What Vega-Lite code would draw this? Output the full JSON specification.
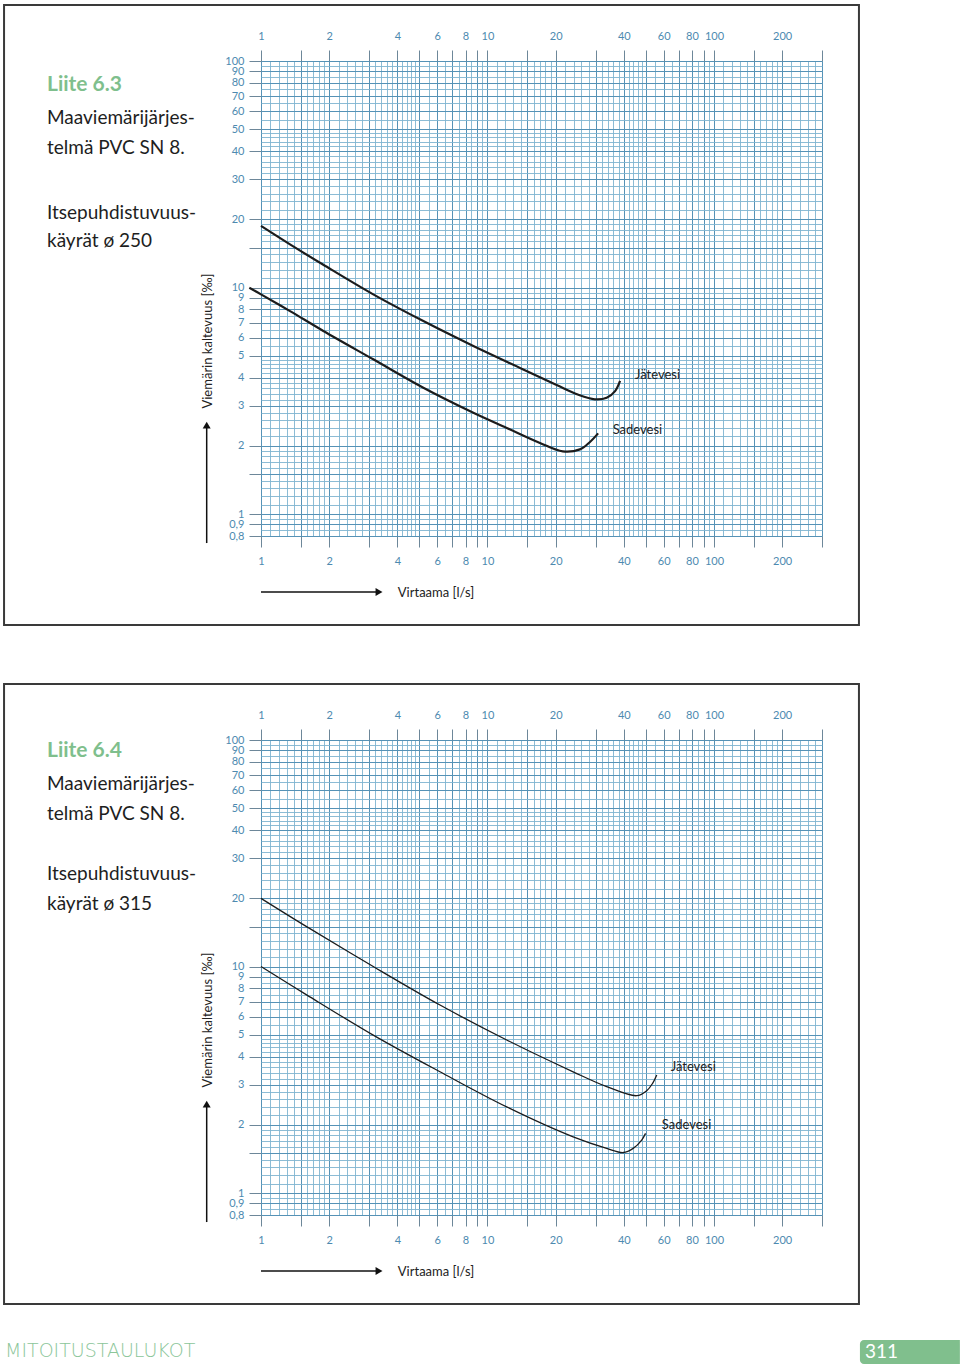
{
  "$schema": "https://vega.github.io/schema/vega-lite/v6.json",
  "background": "white",
  "padding": {"left": 3, "top": 3, "right": 0, "bottom": 0},
  "spacing": 55,
  "config": {
    "view": {"stroke": null},
    "font": "Lato",
    "axis": {"labelFont": "Lato", "labelFontSize": 11, "labelColor": "#4d8ab0", "tickColor": "#6d8799", "domain": false, "titleFont": "Lato", "titleFontSize": 13, "titleFontWeight": "normal", "titleColor": "#222222", "labelOverlap": false, "labelFlush": false, "labelBound": false}
  },
  "datasets": {
    "p1curves": [
      {"series": "Jätevesi", "Q": 1, "S": 18.7},
      {"series": "Jätevesi", "Q": 1.343, "S": 15.5},
      {"series": "Jätevesi", "Q": 1.885, "S": 12.6},
      {"series": "Jätevesi", "Q": 3.13, "S": 9.33},
      {"series": "Jätevesi", "Q": 5.21, "S": 7.11},
      {"series": "Jätevesi", "Q": 8.66, "S": 5.52},
      {"series": "Jätevesi", "Q": 14.39, "S": 4.35},
      {"series": "Jätevesi", "Q": 20.2, "S": 3.71},
      {"series": "Jätevesi", "Q": 25.2, "S": 3.36},
      {"series": "Jätevesi", "Q": 29.8, "S": 3.21},
      {"series": "Jätevesi", "Q": 33.6, "S": 3.26},
      {"series": "Jätevesi", "Q": 36.6, "S": 3.49},
      {"series": "Jätevesi", "Q": 38.5, "S": 3.87},
      {"series": "Sadevesi", "Q": 0.888, "S": 9.98},
      {"series": "Sadevesi", "Q": 1, "S": 9.33},
      {"series": "Sadevesi", "Q": 1.343, "S": 7.87},
      {"series": "Sadevesi", "Q": 1.885, "S": 6.43},
      {"series": "Sadevesi", "Q": 3.13, "S": 4.82},
      {"series": "Sadevesi", "Q": 5.21, "S": 3.61},
      {"series": "Sadevesi", "Q": 8.66, "S": 2.8},
      {"series": "Sadevesi", "Q": 12.16, "S": 2.4},
      {"series": "Sadevesi", "Q": 17.05, "S": 2.06},
      {"series": "Sadevesi", "Q": 21.5, "S": 1.89},
      {"series": "Sadevesi", "Q": 25.6, "S": 1.93},
      {"series": "Sadevesi", "Q": 28.2, "S": 2.07},
      {"series": "Sadevesi", "Q": 30.8, "S": 2.27}
    ],
    "p1labels": [
      {"label": "Jätevesi", "Q": 44.8, "S": 4.11},
      {"label": "Sadevesi", "Q": 35.7, "S": 2.34}
    ],
    "p2curves": [
      {"series": "Jätevesi", "Q": 1, "S": 20},
      {"series": "Jätevesi", "Q": 1.59, "S": 15},
      {"series": "Jätevesi", "Q": 3.13, "S": 10},
      {"series": "Jätevesi", "Q": 6.17, "S": 6.76},
      {"series": "Jätevesi", "Q": 12.16, "S": 4.74},
      {"series": "Jätevesi", "Q": 23.9, "S": 3.43},
      {"series": "Jätevesi", "Q": 33.6, "S": 2.95},
      {"series": "Jätevesi", "Q": 45.6, "S": 2.69},
      {"series": "Jätevesi", "Q": 50.5, "S": 2.83},
      {"series": "Jätevesi", "Q": 53.6, "S": 3.05},
      {"series": "Jätevesi", "Q": 55.9, "S": 3.32},
      {"series": "Sadevesi", "Q": 1, "S": 10},
      {"series": "Sadevesi", "Q": 1.59, "S": 7.5},
      {"series": "Sadevesi", "Q": 3.13, "S": 4.98},
      {"series": "Sadevesi", "Q": 6.17, "S": 3.43},
      {"series": "Sadevesi", "Q": 12.16, "S": 2.4},
      {"series": "Sadevesi", "Q": 23.9, "S": 1.77},
      {"series": "Sadevesi", "Q": 33.6, "S": 1.575},
      {"series": "Sadevesi", "Q": 39.8, "S": 1.51},
      {"series": "Sadevesi", "Q": 44, "S": 1.575},
      {"series": "Sadevesi", "Q": 47.96, "S": 1.714},
      {"series": "Sadevesi", "Q": 49.9, "S": 1.834}
    ],
    "p2labels": [
      {"label": "Jätevesi", "Q": 64.4, "S": 3.59},
      {"label": "Sadevesi", "Q": 58.8, "S": 1.99}
    ]
  },
  "vconcat": [
    {
      "width": 561,
      "height": 475,
      "title": {"text": "Liite 6.3", "subtitle": ["Maaviemärijärjes-", "telmä PVC SN 8."], "anchor": "start", "frame": "group", "orient": "top", "offset": 0, "font": "Lato", "fontSize": 21, "fontWeight": "bold", "color": "#7fbf8d", "subtitleFont": "Lato", "subtitleFontSize": 19, "subtitleFontWeight": "normal", "subtitleColor": "#1e1e1e", "subtitleLineHeight": 30.5, "subtitlePadding": 14, "dx": -214, "dy": 154.5},
      "layer": [
        {
          "data": {"values": [{}]},
          "mark": {"type": "rect", "filled": false, "stroke": "#3a3a3a", "strokeWidth": 2, "clip": false},
          "encoding": {
            "x": {"datum": 0.07335, "type": "quantitative", "scale": {"type": "log", "domain": [1, 300], "nice": false},
              "axis": {"orient": "bottom", "values": [1,1.1,1.2,1.3,1.4,1.5,1.6,1.7,1.8,1.9,2,2.2,2.4,2.6,2.8,3,3.2,3.4,3.6,3.8,4,4.2,4.4,4.6,4.8,5,5.5,6,6.5,7,7.5,8,8.5,9,9.5,10,11,12,13,14,15,16,17,18,19,20,22,24,26,28,30,32,34,36,38,40,42,44,46,48,50,55,60,65,70,75,80,85,90,95,100,110,120,130,140,150,160,170,180,190,200,220,240,260,280,300], "grid": true, "gridColor": "#7fb4d0", "gridWidth": 0.9, "labels": false, "ticks": false, "domain": false, "title": null}},
            "x2": {"datum": 436.8},
            "y": {"datum": 176.7, "type": "quantitative", "scale": {"type": "log", "domain": [0.8, 100], "nice": false},
              "axis": {"orient": "left", "values": [0.8,0.85,0.9,0.95,1,1.1,1.2,1.3,1.4,1.5,1.6,1.7,1.8,1.9,2,2.2,2.4,2.6,2.8,3,3.2,3.4,3.6,3.8,4,4.2,4.4,4.6,4.8,5,5.5,6,6.5,7,7.5,8,8.5,9,9.5,10,11,12,13,14,15,16,17,18,19,20,22,24,26,28,30,32,34,36,38,40,42,44,46,48,50,55,60,65,70,75,80,85,90,95,100], "grid": true, "gridColor": "#7fb4d0", "gridWidth": 0.9, "labels": false, "ticks": false, "domain": false, "title": null}},
            "y2": {"datum": 0.3236}
          }
        },
        {
          "data": {"name": "p1curves"},
          "mark": {"type": "line", "interpolate": "catmull-rom", "strokeWidth": 2.2, "color": "#1c1c1c", "clip": false},
          "encoding": {
            "x": {"field": "Q", "type": "quantitative", "scale": {"type": "log", "domain": [1, 300], "nice": false},
              "axis": {"orient": "top", "values": [1,1.5,2,3,4,5,6,7,8,9,10,15,20,30,40,50,60,70,80,90,100,150,200,300], "grid": true, "gridColor": "#5592b6", "gridWidth": 1, "ticks": true, "tickSize": 11, "tickWidth": 1, "labelPadding": 9, "labelExpr": "indexof([1,2,4,6,8,10,20,40,60,80,100,200], datum.value) >= 0 ? '' + datum.value : ''", "title": null}},
            "y": {"field": "S", "type": "quantitative", "scale": {"type": "log", "domain": [0.8, 100], "nice": false},
              "axis": {"orient": "left", "values": [0.8,0.9,1,1.5,2,3,4,5,6,7,8,9,10,15,20,30,40,50,60,70,80,90,100], "grid": true, "gridColor": "#5592b6", "gridWidth": 1, "ticks": true, "tickSize": 12, "tickWidth": 1, "labelPadding": 5, "labelExpr": "indexof([1.5,15], datum.value) >= 0 ? '' : replace('' + datum.value, '.', ',')", "title": "Viemärin kaltevuus [‰]", "titleX": -53.5, "titleY": 279.5, "titleAngle": 270, "titleAlign": "center", "titleBaseline": "middle"}},
            "detail": {"field": "series"}
          }
        },
        {
          "data": {"name": "p1labels"},
          "mark": {"type": "text", "align": "left", "baseline": "middle", "fontSize": 13, "font": "Lato", "color": "#222222", "clip": false},
          "encoding": {
            "x": {"field": "Q", "type": "quantitative", "scale": {"type": "log", "domain": [1, 300], "nice": false},
              "axis": {"orient": "bottom", "values": [1,1.5,2,3,4,5,6,7,8,9,10,15,20,30,40,50,60,70,80,90,100,150,200,300], "grid": false, "ticks": true, "tickSize": 11, "tickWidth": 1, "labelPadding": 8, "labelExpr": "indexof([1,2,4,6,8,10,20,40,60,80,100,200], datum.value) >= 0 ? '' + datum.value : ''", "title": "Virtaama [l/s]", "titleX": 174.5, "titleY": 56, "titleAlign": "center", "titleBaseline": "middle"}},
            "y": {"field": "S", "type": "quantitative", "scale": {"type": "log", "domain": [0.8, 100], "nice": false}, "axis": null},
            "text": {"field": "label"}
          }
        },
        {
          "data": {"values": [{}]},
          "mark": {"type": "text", "text": ["Itsepuhdistuvuus-", "käyrät ø 250"], "align": "left", "baseline": "alphabetic", "font": "Lato", "fontSize": 19, "lineHeight": 28, "color": "#1e1e1e", "clip": false},
          "encoding": {
            "x": {"datum": 0.1135, "type": "quantitative", "scale": {"type": "log", "domain": [1, 300], "nice": false}, "axis": null},
            "y": {"datum": 20.06, "type": "quantitative", "scale": {"type": "log", "domain": [0.8, 100], "nice": false}, "axis": null}
          }
        },
        {
          "data": {"values": [{}]},
          "mark": {"type": "rule", "color": "#111111", "strokeWidth": 1.5, "clip": false},
          "encoding": {
            "x": {"datum": 0.5757, "type": "quantitative", "scale": {"type": "log", "domain": [1, 300], "nice": false}, "axis": null},
            "y": {"datum": 0.7447, "type": "quantitative", "scale": {"type": "log", "domain": [0.8, 100], "nice": false}, "axis": null},
            "y2": {"datum": 2.4}
          }
        },
        {
          "data": {"values": [{}]},
          "mark": {"type": "point", "shape": "triangle-up", "filled": true, "size": 64, "color": "#111111", "opacity": 1, "clip": false},
          "encoding": {
            "x": {"datum": 0.5757, "type": "quantitative", "scale": {"type": "log", "domain": [1, 300], "nice": false}, "axis": null},
            "y": {"datum": 2.47, "type": "quantitative", "scale": {"type": "log", "domain": [0.8, 100], "nice": false}, "axis": null}
          }
        },
        {
          "data": {"values": [{}]},
          "mark": {"type": "rule", "color": "#111111", "strokeWidth": 1.5, "clip": false},
          "encoding": {
            "x": {"datum": 1.0, "type": "quantitative", "scale": {"type": "log", "domain": [1, 300], "nice": false}, "axis": null},
            "x2": {"datum": 3.22},
            "y": {"datum": 0.4524, "type": "quantitative", "scale": {"type": "log", "domain": [0.8, 100], "nice": false}, "axis": null}
          }
        },
        {
          "data": {"values": [{}]},
          "mark": {"type": "point", "shape": "triangle-right", "filled": true, "size": 64, "color": "#111111", "opacity": 1, "clip": false},
          "encoding": {
            "x": {"datum": 3.32, "type": "quantitative", "scale": {"type": "log", "domain": [1, 300], "nice": false}, "axis": null},
            "y": {"datum": 0.4524, "type": "quantitative", "scale": {"type": "log", "domain": [0.8, 100], "nice": false}, "axis": null}
          }
        }
      ],
      "resolve": {"axis": {"x": "independent", "y": "independent"}}
    },
    {
      "width": 561,
      "height": 475,
      "title": {"text": "Liite 6.4", "subtitle": ["Maaviemärijärjes-", "telmä PVC SN 8."], "anchor": "start", "frame": "group", "orient": "top", "offset": 0, "font": "Lato", "fontSize": 21, "fontWeight": "bold", "color": "#7fbf8d", "subtitleFont": "Lato", "subtitleFontSize": 19, "subtitleFontWeight": "normal", "subtitleColor": "#1e1e1e", "subtitleLineHeight": 30, "subtitlePadding": 14, "dx": -214, "dy": 141},
      "layer": [
        {
          "data": {"values": [{}]},
          "mark": {"type": "rect", "filled": false, "stroke": "#3a3a3a", "strokeWidth": 2, "clip": false},
          "encoding": {
            "x": {"datum": 0.07335, "type": "quantitative", "scale": {"type": "log", "domain": [1, 300], "nice": false},
              "axis": {"orient": "bottom", "values": [1,1.1,1.2,1.3,1.4,1.5,1.6,1.7,1.8,1.9,2,2.2,2.4,2.6,2.8,3,3.2,3.4,3.6,3.8,4,4.2,4.4,4.6,4.8,5,5.5,6,6.5,7,7.5,8,8.5,9,9.5,10,11,12,13,14,15,16,17,18,19,20,22,24,26,28,30,32,34,36,38,40,42,44,46,48,50,55,60,65,70,75,80,85,90,95,100,110,120,130,140,150,160,170,180,190,200,220,240,260,280,300], "grid": true, "gridColor": "#7fb4d0", "gridWidth": 0.9, "labels": false, "ticks": false, "domain": false, "title": null}},
            "x2": {"datum": 436.8},
            "y": {"datum": 176.7, "type": "quantitative", "scale": {"type": "log", "domain": [0.8, 100], "nice": false},
              "axis": {"orient": "left", "values": [0.8,0.85,0.9,0.95,1,1.1,1.2,1.3,1.4,1.5,1.6,1.7,1.8,1.9,2,2.2,2.4,2.6,2.8,3,3.2,3.4,3.6,3.8,4,4.2,4.4,4.6,4.8,5,5.5,6,6.5,7,7.5,8,8.5,9,9.5,10,11,12,13,14,15,16,17,18,19,20,22,24,26,28,30,32,34,36,38,40,42,44,46,48,50,55,60,65,70,75,80,85,90,95,100], "grid": true, "gridColor": "#7fb4d0", "gridWidth": 0.9, "labels": false, "ticks": false, "domain": false, "title": null}},
            "y2": {"datum": 0.3236}
          }
        },
        {
          "data": {"name": "p2curves"},
          "mark": {"type": "line", "interpolate": "catmull-rom", "strokeWidth": 1.3, "color": "#1c1c1c", "clip": false},
          "encoding": {
            "x": {"field": "Q", "type": "quantitative", "scale": {"type": "log", "domain": [1, 300], "nice": false},
              "axis": {"orient": "top", "values": [1,1.5,2,3,4,5,6,7,8,9,10,15,20,30,40,50,60,70,80,90,100,150,200,300], "grid": true, "gridColor": "#5592b6", "gridWidth": 1, "ticks": true, "tickSize": 11, "tickWidth": 1, "labelPadding": 9, "labelExpr": "indexof([1,2,4,6,8,10,20,40,60,80,100,200], datum.value) >= 0 ? '' + datum.value : ''", "title": null}},
            "y": {"field": "S", "type": "quantitative", "scale": {"type": "log", "domain": [0.8, 100], "nice": false},
              "axis": {"orient": "left", "values": [0.8,0.9,1,1.5,2,3,4,5,6,7,8,9,10,15,20,30,40,50,60,70,80,90,100], "grid": true, "gridColor": "#5592b6", "gridWidth": 1, "ticks": true, "tickSize": 12, "tickWidth": 1, "labelPadding": 5, "labelExpr": "indexof([1.5,15], datum.value) >= 0 ? '' : replace('' + datum.value, '.', ',')", "title": "Viemärin kaltevuus [‰]", "titleX": -53.5, "titleY": 279.5, "titleAngle": 270, "titleAlign": "center", "titleBaseline": "middle"}},
            "detail": {"field": "series"}
          }
        },
        {
          "data": {"name": "p2labels"},
          "mark": {"type": "text", "align": "left", "baseline": "middle", "fontSize": 13, "font": "Lato", "color": "#222222", "clip": false},
          "encoding": {
            "x": {"field": "Q", "type": "quantitative", "scale": {"type": "log", "domain": [1, 300], "nice": false},
              "axis": {"orient": "bottom", "values": [1,1.5,2,3,4,5,6,7,8,9,10,15,20,30,40,50,60,70,80,90,100,150,200,300], "grid": false, "ticks": true, "tickSize": 11, "tickWidth": 1, "labelPadding": 8, "labelExpr": "indexof([1,2,4,6,8,10,20,40,60,80,100,200], datum.value) >= 0 ? '' + datum.value : ''", "title": "Virtaama [l/s]", "titleX": 174.5, "titleY": 56, "titleAlign": "center", "titleBaseline": "middle"}},
            "y": {"field": "S", "type": "quantitative", "scale": {"type": "log", "domain": [0.8, 100], "nice": false}, "axis": null},
            "text": {"field": "label"}
          }
        },
        {
          "data": {"values": [{}]},
          "mark": {"type": "text", "text": ["Itsepuhdistuvuus-", "käyrät ø 315"], "align": "left", "baseline": "alphabetic", "font": "Lato", "fontSize": 19, "lineHeight": 30, "color": "#1e1e1e", "clip": false},
          "encoding": {
            "x": {"datum": 0.1135, "type": "quantitative", "scale": {"type": "log", "domain": [1, 300], "nice": false}, "axis": null},
            "y": {"datum": 24.09, "type": "quantitative", "scale": {"type": "log", "domain": [0.8, 100], "nice": false}, "axis": null}
          }
        },
        {
          "data": {"values": [{}]},
          "mark": {"type": "rule", "color": "#111111", "strokeWidth": 1.5, "clip": false},
          "encoding": {
            "x": {"datum": 0.5757, "type": "quantitative", "scale": {"type": "log", "domain": [1, 300], "nice": false}, "axis": null},
            "y": {"datum": 0.7447, "type": "quantitative", "scale": {"type": "log", "domain": [0.8, 100], "nice": false}, "axis": null},
            "y2": {"datum": 2.4}
          }
        },
        {
          "data": {"values": [{}]},
          "mark": {"type": "point", "shape": "triangle-up", "filled": true, "size": 64, "color": "#111111", "opacity": 1, "clip": false},
          "encoding": {
            "x": {"datum": 0.5757, "type": "quantitative", "scale": {"type": "log", "domain": [1, 300], "nice": false}, "axis": null},
            "y": {"datum": 2.47, "type": "quantitative", "scale": {"type": "log", "domain": [0.8, 100], "nice": false}, "axis": null}
          }
        },
        {
          "data": {"values": [{}]},
          "mark": {"type": "rule", "color": "#111111", "strokeWidth": 1.5, "clip": false},
          "encoding": {
            "x": {"datum": 1.0, "type": "quantitative", "scale": {"type": "log", "domain": [1, 300], "nice": false}, "axis": null},
            "x2": {"datum": 3.22},
            "y": {"datum": 0.4524, "type": "quantitative", "scale": {"type": "log", "domain": [0.8, 100], "nice": false}, "axis": null}
          }
        },
        {
          "data": {"values": [{}]},
          "mark": {"type": "point", "shape": "triangle-right", "filled": true, "size": 64, "color": "#111111", "opacity": 1, "clip": false},
          "encoding": {
            "x": {"datum": 3.32, "type": "quantitative", "scale": {"type": "log", "domain": [1, 300], "nice": false}, "axis": null},
            "y": {"datum": 0.4524, "type": "quantitative", "scale": {"type": "log", "domain": [0.8, 100], "nice": false}, "axis": null}
          }
        },
        {
          "data": {"values": [{}]},
          "mark": {"type": "text", "text": "MITOITUSTAULUKOT", "align": "left", "baseline": "middle", "font": "DejaVu Sans", "fontWeight": 200, "fontSize": 19, "color": "#8cc69a", "clip": false},
          "encoding": {
            "x": {"datum": 0.0741, "type": "quantitative", "scale": {"type": "log", "domain": [1, 300], "nice": false}, "axis": null},
            "y": {"datum": 0.2006, "type": "quantitative", "scale": {"type": "log", "domain": [0.8, 100], "nice": false}, "axis": null}
          }
        },
        {
          "data": {"values": [{}]},
          "mark": {"type": "rect", "color": "#80bf8d", "cornerRadiusTopLeft": 4, "cornerRadiusBottomLeft": 4, "clip": false},
          "encoding": {
            "x": {"datum": 441.2, "type": "quantitative", "scale": {"type": "log", "domain": [1, 300], "nice": false}, "axis": null},
            "x2": {"datum": 1219},
            "y": {"datum": 0.2244, "type": "quantitative", "scale": {"type": "log", "domain": [0.8, 100], "nice": false}, "axis": null},
            "y2": {"datum": 0.1758}
          }
        },
        {
          "data": {"values": [{}]},
          "mark": {"type": "text", "text": "311", "align": "left", "baseline": "middle", "font": "Lato", "fontSize": 19, "color": "white", "clip": false},
          "encoding": {
            "x": {"datum": 464.2, "type": "quantitative", "scale": {"type": "log", "domain": [1, 300], "nice": false}, "axis": null},
            "y": {"datum": 0.1986, "type": "quantitative", "scale": {"type": "log", "domain": [0.8, 100], "nice": false}, "axis": null}
          }
        }
      ],
      "resolve": {"axis": {"x": "independent", "y": "independent"}}
    }
  ]
}
